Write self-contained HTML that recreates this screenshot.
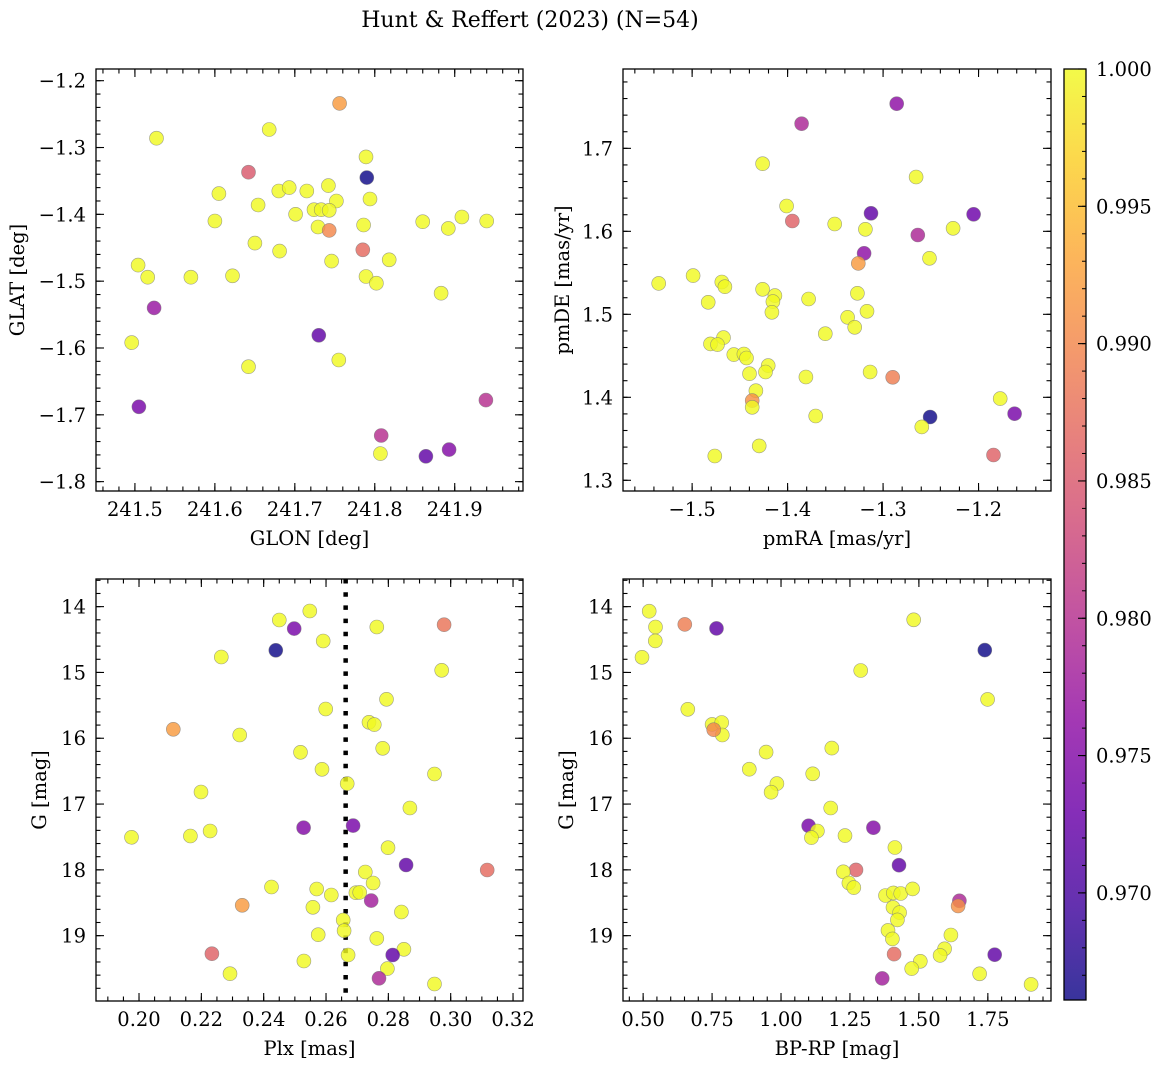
<!DOCTYPE html>
<html><head><meta charset="utf-8">
<style>
body{margin:0;background:#fff;}
svg{display:block;font-family:"DejaVu Serif","Liberation Serif",serif;}
</style></head>
<body>
<svg id="fig" width="1161" height="1068" viewBox="0 0 1161 1068" xmlns="http://www.w3.org/2000/svg">
<defs>
<linearGradient id="plasma" x1="0" y1="1" x2="0" y2="0">
<stop offset="0" stop-color="#0d0887"/><stop offset="0.1" stop-color="#41049d"/>
<stop offset="0.2" stop-color="#6a00a8"/><stop offset="0.3" stop-color="#8f0da4"/>
<stop offset="0.4" stop-color="#b12a90"/><stop offset="0.5" stop-color="#cc4778"/>
<stop offset="0.6" stop-color="#e16462"/><stop offset="0.7" stop-color="#f2844b"/>
<stop offset="0.8" stop-color="#fca636"/><stop offset="0.9" stop-color="#fcce25"/>
<stop offset="1" stop-color="#f0f921"/>
</linearGradient>
</defs>
<text x="530" y="27" font-size="22" text-anchor="middle">Hunt &amp; Reffert (2023) (N=54)</text>
</svg>
<script>
// ---- data ----
const p1GLON=[241.756,241.527,241.668,241.642,241.789,241.790,241.605,241.680,241.693,241.715,241.742,241.752,241.654,241.701,241.724,241.733,241.743,241.729,241.743,241.786,241.794,241.600,241.860,241.892,241.909,241.940,241.650,241.681,241.785,241.746,241.818,241.504,241.516,241.570,241.622,241.789,241.802,241.883,241.524,241.730,241.496,241.755,241.642,241.505,241.939,241.808,241.807,241.864,241.893];
const p1GLAT=[-1.234,-1.286,-1.273,-1.337,-1.314,-1.345,-1.369,-1.365,-1.360,-1.365,-1.357,-1.380,-1.386,-1.400,-1.393,-1.393,-1.394,-1.419,-1.424,-1.416,-1.377,-1.410,-1.411,-1.421,-1.404,-1.410,-1.443,-1.455,-1.453,-1.470,-1.468,-1.476,-1.494,-1.494,-1.492,-1.493,-1.503,-1.518,-1.540,-1.581,-1.592,-1.618,-1.628,-1.688,-1.678,-1.731,-1.758,-1.762,-1.752];
const p1Prob=[0.992,1,1,0.985,1,0.966,1,1,1,1,1,1,1,1,1,1,1,1,0.990,1,1,1,1,1,1,1,1,1,0.987,1,1,1,1,1,1,1,1,1,0.977,0.972,1,1,1,0.974,0.980,0.980,1,0.972,0.975];

const p2PMRA=[-1.2857,-1.3853,-1.4262,-1.2654,-1.401,-1.3951,-1.3126,-1.2052,-1.3507,-1.3185,-1.2266,-1.2636,-1.3199,-1.3259,-1.2514,-1.535,-1.499,-1.4689,-1.4657,-1.4262,-1.4133,-1.4154,-1.4164,-1.4832,-1.378,-1.3269,-1.3168,-1.3371,-1.3297,-1.3605,-1.4671,-1.4808,-1.4734,-1.4563,-1.4458,-1.443,-1.4399,-1.4203,-1.4231,-1.3808,-1.3136,-1.2899,-1.4332,-1.4371,-1.4371,-1.3706,-1.1773,-1.2507,-1.1622,-1.2594,-1.4297,-1.4762,-1.1843];
const p2PMDE=[1.7538,1.7297,1.6815,1.6655,1.6305,1.6124,1.6217,1.6205,1.6088,1.6024,1.6036,1.5956,1.5735,1.5614,1.5675,1.5373,1.5466,1.5390,1.5333,1.5301,1.5225,1.5153,1.5024,1.5145,1.5185,1.5253,1.5036,1.4964,1.4843,1.4767,1.4719,1.4643,1.4635,1.4514,1.4522,1.4474,1.4285,1.4382,1.4305,1.4245,1.4305,1.4241,1.408,1.396,1.388,1.3775,1.3984,1.3763,1.3803,1.3643,1.3414,1.3293,1.3305];
const p2Prob=[0.976,0.979,1,1,1,0.986,0.972,0.973,1,1,1,0.979,0.976,0.992,1,1,1,1,1,1,1,1,1,1,1,1,1,1,1,1,1,1,1,1,1,1,1,1,1,1,1,0.989,1,0.991,1,1,1,0.966,0.974,1,1,1,0.986];

const p3Plx=[0.2548,0.245,0.2498,0.2763,0.2979,0.2591,0.2439,0.2264,0.2971,0.2794,0.2599,0.211,0.2738,0.2755,0.2323,0.2782,0.2518,0.2587,0.2948,0.2668,0.2199,0.2869,0.1976,0.2165,0.2228,0.2528,0.2687,0.2799,0.2857,0.2726,0.3117,0.2751,0.2425,0.257,0.2696,0.2708,0.2617,0.2745,0.2331,0.2558,0.2842,0.2655,0.2658,0.2575,0.2763,0.285,0.2671,0.2814,0.2234,0.2529,0.2797,0.2292,0.277,0.2948];
const p3G=[14.066,14.203,14.334,14.309,14.274,14.522,14.664,14.765,14.968,15.408,15.555,15.864,15.758,15.793,15.950,16.153,16.214,16.472,16.543,16.690,16.817,17.06,17.506,17.485,17.409,17.359,17.328,17.663,17.926,18.032,18.002,18.2,18.26,18.291,18.347,18.342,18.382,18.468,18.539,18.569,18.640,18.762,18.924,18.985,19.041,19.208,19.294,19.294,19.274,19.385,19.501,19.578,19.648,19.735];
const p3Prob=[1,1,0.974,1,0.988,1,0.966,1,1,1,1,0.992,1,1,1,1,1,1,1,1,1,1,1,1,1,0.975,0.974,1,0.972,1,0.987,1,1,1,1,1,1,0.978,0.992,1,1,1,1,1,1,1,1,0.972,0.986,1,1,1,0.979,1];
const plxMedian=0.2663;

const p4BPRP=[0.522,0.545,0.544,0.496,0.651,0.766,1.481,1.739,1.289,1.749,0.662,0.750,0.785,0.787,0.756,0.946,1.184,0.885,1.115,0.985,0.964,1.180,1.100,1.132,1.110,1.232,1.335,1.413,1.428,1.272,1.226,1.246,1.264,1.379,1.407,1.434,1.477,1.647,1.642,1.406,1.430,1.422,1.388,1.404,1.616,1.593,1.577,1.410,1.775,1.505,1.474,1.720,1.367,1.907];
const p4G=[14.07,14.31,14.52,14.77,14.27,14.33,14.20,14.66,14.97,15.41,15.56,15.79,15.76,15.95,15.87,16.21,16.15,16.47,16.54,16.69,16.82,17.06,17.33,17.41,17.51,17.48,17.36,17.66,17.93,18.00,18.03,18.20,18.27,18.39,18.35,18.36,18.29,18.47,18.55,18.57,18.65,18.76,18.92,19.05,18.99,19.20,19.30,19.28,19.29,19.39,19.50,19.58,19.65,19.74];
const p4Prob=[1,1,1,1,0.989,0.972,1,0.966,1,1,1,1,1,1,0.990,1,1,1,1,1,1,1,0.974,1,1,1,0.975,1,0.972,0.986,1,1,1,1,1,1,1,0.979,0.991,1,1,1,1,1,1,1,1,0.987,0.972,1,1,1,0.978,1];

const cbarTicks=[1.000,0.995,0.990,0.985,0.980,0.975,0.970];
const vmin=0.9661, vmax=1.0;

// ---- helpers ----
const NS="http://www.w3.org/2000/svg";
const fig=document.getElementById('fig');
function mk(tag,attrs,parent){const e=document.createElementNS(NS,tag);for(const k in attrs)e.setAttribute(k,attrs[k]);(parent||fig).appendChild(e);return e;}
const stops=[[0,[13,8,135]],[0.1,[65,4,157]],[0.2,[106,0,168]],[0.3,[143,13,164]],[0.4,[177,42,144]],[0.5,[204,71,120]],[0.6,[225,100,98]],[0.7,[242,132,75]],[0.8,[252,166,54]],[0.9,[252,206,37]],[1,[240,249,33]]];
function plasma(v){let t=(v-vmin)/(vmax-vmin);t=Math.max(0,Math.min(1,t));
 for(let i=1;i<stops.length;i++){if(t<=stops[i][0]){const a=stops[i-1],b=stops[i];const f=(t-a[0])/(b[0]-a[0]);
  const c=a[1].map((x,j)=>Math.round(x+(b[1][j]-x)*f));return `rgb(${c[0]},${c[1]},${c[2]})`;}}
 return 'rgb(240,249,33)';}
function fmt(v,d){const s=Math.abs(v).toFixed(d);return (v<-1e-9?'−':'')+s;}

function panel(cfg){
 const g=mk('g',{});
 
 
 const [L,T,R,B]=cfg.box;
 const sx=v=>L+(v-cfg.xd[0])/(cfg.xd[1]-cfg.xd[0])*(R-L);
 const sy=v=>cfg.yinv? T+(v-cfg.yd[0])/(cfg.yd[1]-cfg.yd[0])*(B-T) : B-(v-cfg.yd[0])/(cfg.yd[1]-cfg.yd[0])*(B-T);
 if(cfg.vline!==undefined){
  const ln=mk('line',{x1:sx(cfg.vline),x2:sx(cfg.vline),y1:T,y2:B,stroke:'#000','stroke-width':4.5,'stroke-dasharray':'4.5 8.7'},g);
  
  
 }
 for(let i=0;i<cfg.xs.length;i++){
  const c=mk('circle',{cx:sx(cfg.xs[i]).toFixed(1),cy:sy(cfg.ys[i]).toFixed(1),r:7,fill:plasma(cfg.ps[i]),'fill-opacity':0.82,stroke:'#777','stroke-opacity':0.7,'stroke-width':0.6},g);
  
  
 }
 const tk=mk('g',{stroke:'#000','stroke-width':1.1},g);
 
 
 const eps=1e-9;
 const xmin=Math.min(...cfg.xd),xmax=Math.max(...cfg.xd),ymin=Math.min(...cfg.yd),ymax=Math.max(...cfg.yd);
 for(let v=Math.ceil(xmin/cfg.mx-eps)*cfg.mx;v<=xmax+eps;v+=cfg.mx){const x=sx(v);
  mk('line',{x1:x,x2:x,y1:B,y2:B-4.5},tk);mk('line',{x1:x,x2:x,y1:T,y2:T+4.5},tk);}
 for(let v=Math.ceil(ymin/cfg.my-eps)*cfg.my;v<=ymax+eps;v+=cfg.my){const y=sy(v);
  mk('line',{x1:L,x2:L+4.5,y1:y,y2:y},tk);mk('line',{x1:R,x2:R-4.5,y1:y,y2:y},tk);}
 cfg.xt.forEach(v=>{const x=sx(v);
  mk('line',{x1:x,x2:x,y1:B,y2:B-8},tk);mk('line',{x1:x,x2:x,y1:T,y2:T+8},tk);
  const t=mk('text',{x:x,y:B+25,'font-size':19.5,'text-anchor':'middle'},g);t.textContent=fmt(v,cfg.xdp);
  
  });
 cfg.yt.forEach(v=>{const y=sy(v);
  mk('line',{x1:L,x2:L+8,y1:y,y2:y},tk);mk('line',{x1:R,x2:R-8,y1:y,y2:y},tk);
  const t=mk('text',{x:L-10,y:y+7,'font-size':19.5,'text-anchor':'end'},g);t.textContent=fmt(v,cfg.ydp);
  
  });
 const fr=mk('rect',{x:L,y:T,width:R-L,height:B-T,fill:'none',stroke:'#000','stroke-width':1.3},g);
 
 
 const xl=mk('text',{x:(L+R)/2,y:B+54,'font-size':19.5,'text-anchor':'middle'},g);xl.textContent=cfg.xlab;
 
 
 const yl=mk('text',{x:0,y:0,'font-size':19.5,'text-anchor':'middle',transform:`translate(${cfg.ylx},${(T+B)/2}) rotate(-90)`},g);yl.textContent=cfg.ylab;
 
 
}

panel({name:'glon-glat-panel',box:[96,69,523,491],xd:[241.4513,241.9854],yd:[-1.8140,-1.1825],yinv:false,
 xs:p1GLON,ys:p1GLAT,ps:p1Prob,xt:[241.5,241.6,241.7,241.8,241.9],yt:[-1.2,-1.3,-1.4,-1.5,-1.6,-1.7,-1.8],
 mx:0.02,my:0.02,xdp:1,ydp:1,xlab:'GLON [deg]',ylab:'GLAT [deg]',ylx:24});
panel({name:'proper-motion-panel',box:[623,69,1051,491],xd:[-1.5724,-1.1241],yd:[1.2871,1.7956],yinv:false,
 xs:p2PMRA,ys:p2PMDE,ps:p2Prob,xt:[-1.5,-1.4,-1.3,-1.2],yt:[1.3,1.4,1.5,1.6,1.7],
 mx:0.02,my:0.02,xdp:1,ydp:1,xlab:'pmRA [mas/yr]',ylab:'pmDE [mas/yr]',ylx:569});
panel({name:'parallax-magnitude-panel',box:[96,579,523,1001],xd:[0.1862,0.3232],yd:[13.58,19.993],yinv:true,
 xs:p3Plx,ys:p3G,ps:p3Prob,xt:[0.20,0.22,0.24,0.26,0.28,0.30,0.32],yt:[14,15,16,17,18,19],
 mx:0.005,my:0.2,xdp:2,ydp:0,xlab:'Plx [mas]',ylab:'G [mag]',ylx:46,vline:plxMedian});
panel({name:'color-magnitude-panel',box:[623,579,1051,1001],xd:[0.427,1.979],yd:[13.58,19.993],yinv:true,
 xs:p4BPRP,ys:p4G,ps:p4Prob,xt:[0.50,0.75,1.00,1.25,1.50,1.75],yt:[14,15,16,17,18,19],
 mx:0.05,my:0.2,xdp:2,ydp:0,xlab:'BP-RP [mag]',ylab:'G [mag]',ylx:573});

(function(){
 const L=1064,R=1086,T=69,B=1000;
 const g=mk('g',{});
 
 
 const r=mk('rect',{x:L,y:T,width:R-L,height:B-T,fill:'url(#plasma)','fill-opacity':0.82},g);
 
 
 const sy=v=>B-(v-vmin)/(vmax-vmin)*(B-T);
 for(let v=0.967;v<=1.00001;v+=0.001){const y=sy(v);mk('line',{x1:R,x2:R-4,y1:y,y2:y,stroke:'#000','stroke-width':1},g);}
 cbarTicks.forEach(v=>{const y=sy(v);mk('line',{x1:R,x2:R-8,y1:y,y2:y,stroke:'#000','stroke-width':1.1},g);
  const t=mk('text',{x:R+10,y:y+7,'font-size':19.5},g);t.textContent=v.toFixed(3);
  
  });
 mk('rect',{x:L,y:T,width:R-L,height:B-T,fill:'none',stroke:'#000','stroke-width':1.3},g);
})();
</script>
</body></html>
